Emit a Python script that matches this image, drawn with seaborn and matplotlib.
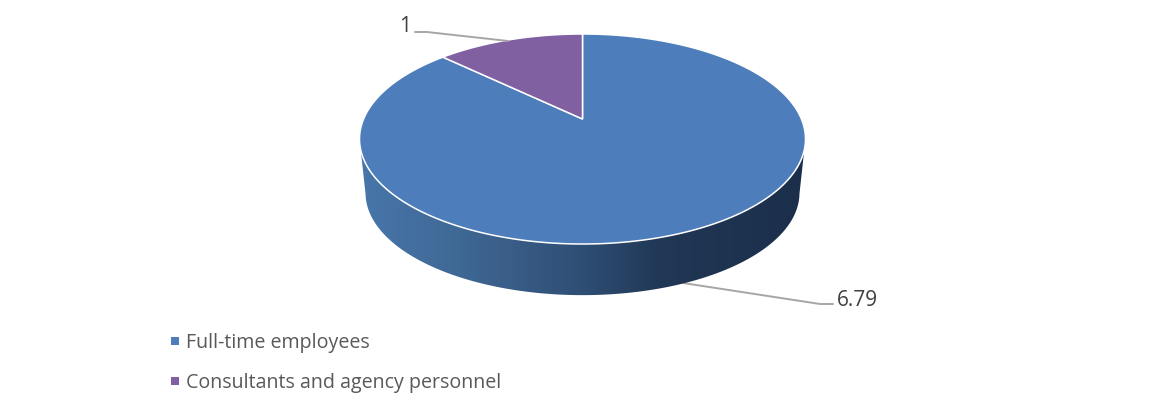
import numpy as np
import matplotlib
matplotlib.use('Agg')
import matplotlib.pyplot as plt
from matplotlib.colors import LinearSegmentedColormap
from matplotlib.lines import Line2D
from matplotlib.patches import Polygon
import seaborn as sns

categories = ['Full-time employees', 'Consultants and agency personnel']
values = [6.79, 1]
value_labels = ['6.79', '1']

sns.set_theme(style='white')
plt.rcParams['font.family'] = ['Open Sans', 'DejaVu Sans']

colors = sns.color_palette(['#4d7ebb', '#8060a0'])
side_cmap = LinearSegmentedColormap.from_list('side', [
    (0.00, '#4876aa'), (0.22, '#3f6895'), (0.50, '#2f4e74'),
    (0.68, '#203755'), (1.00, '#1b2f4b')])

# pixel coordinates of the tilted pie
CX, CY = 582.5, 119
TILT = 0.1905
A_X, A_Y = 218.9, 101.2


def project(theta, scale=1.0, dy=0.0):
    """Tilted disc: theta runs clockwise from twelve o'clock."""
    u, v = np.sin(theta), np.cos(theta)
    d = 1 + TILT * v
    return CX + scale * A_X * u / d, CY + dy - scale * A_Y * v / d


fig = plt.figure(figsize=(11.64, 4), dpi=100)
ax = fig.add_axes([0, 0, 1, 1])
ax.set_xlim(0, 1164)
ax.set_ylim(400, 0)
ax.axis('off')

# side wall: full top and bottom discs joined by their widest points
t = np.linspace(0, 2 * np.pi, 721)
tx, ty = project(t)
bx, by = project(t, scale=0.973, dy=54.5)
top_x, top_y = tx[ty >= 139], ty[ty >= 139]
order = np.argsort(top_x)
low_x, low_y = bx[by >= 193], by[by >= 193]
order2 = np.argsort(low_x)
wall = np.vstack([
    np.column_stack([top_x[order], top_y[order]]),
    np.column_stack([low_x[order2][::-1], low_y[order2][::-1]]),
])
wall_patch = Polygon(wall, closed=True, fc='none', ec='none')
ax.add_patch(wall_patch)
grad = ax.imshow(np.linspace(0, 1, 256)[None, :], cmap=side_cmap, aspect='auto',
                 extent=[360, 805, 300, 130], zorder=1)
grad.set_clip_path(wall_patch)
ax.set_xlim(0, 1164)
ax.set_ylim(400, 0)

# top face, slices follow the values
shares = np.array(values) / np.sum(values)
edges = np.concatenate([[0], np.cumsum(shares)]) * 2 * np.pi
for start, stop, col in zip(edges[:-1], edges[1:], colors):
    th = np.linspace(start, stop, 400)
    x, y = project(th)
    ax.fill(np.r_[CX, x], np.r_[CY, y], fc=col, ec='white', lw=1.1, zorder=2,
            joinstyle='miter')

# leader lines
ax.plot([683, 820, 833], [283, 304, 304], color='#a6a6a6', lw=1.4, zorder=0)
ax.plot([508, 427, 415], [41, 32, 32], color='#a6a6a6', lw=1.4, zorder=3)
ax.text(837, 300, value_labels[0], fontsize=15, color='#404040', va='center', ha='left')
ax.text(411, 27, value_labels[1], fontsize=15, color='#404040', va='center', ha='right')

handles = [Line2D([], [], ls='none', marker='s', ms=5.2, mfc=c, mec=c, mew=0) for c in colors]
ax.legend(handles, categories, loc='upper left', bbox_to_anchor=(167 / 1164, 1 - 333 / 400),
          bbox_transform=ax.transAxes, frameon=False, fontsize=14.1, labelcolor='#595959',
          labelspacing=1.03, handlelength=0.8, handletextpad=0.18, borderpad=0, borderaxespad=0)

fig.savefig('out.png', dpi=100)
